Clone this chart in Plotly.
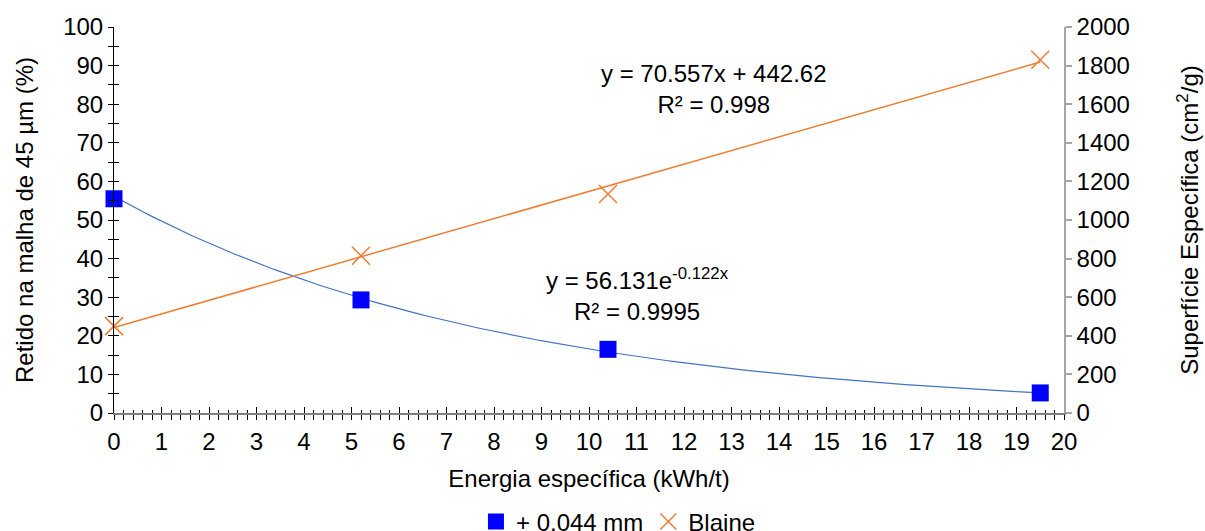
import numpy as np
import plotly.graph_objects as go

# Energia específica (kWh/t) de cada ensaio
energia = [0.0, 5.2, 10.4, 19.5]
# Retido na malha de 45 µm (%)
retido = [55.5, 29.3, 16.5, 5.2]
# Superfície específica Blaine (cm²/g)
blaine = [450, 815, 1135, 1830]

# Coeficientes das linhas de tendência
exp_a, exp_b = 56.131, -0.122
lin_a, lin_b = 70.557, 442.62

FONT = "Liberation Sans, Arial, sans-serif"
FS = 24

xs = np.linspace(0, energia[-1], 200)

fig = go.Figure()

fig.add_trace(go.Scatter(
    x=xs, y=exp_a * np.exp(exp_b * xs), mode="lines",
    line=dict(color="#4472C4", width=1.2), showlegend=False, hoverinfo="skip",
))
fig.add_trace(go.Scatter(
    x=xs, y=lin_a * xs + lin_b, mode="lines", yaxis="y2",
    line=dict(color="#ED7D31", width=1.5), showlegend=False, hoverinfo="skip",
))
fig.add_trace(go.Scatter(
    x=energia, y=retido, mode="markers", name="+ 0.044 mm", cliponaxis=False,
    marker=dict(symbol="square", size=17, color="#0000FF"),
))
fig.add_trace(go.Scatter(
    x=energia, y=blaine, mode="markers", name="Blaine", yaxis="y2", cliponaxis=False,
    marker=dict(symbol="x-thin-open", size=18, color="#ED7D31",
                line=dict(color="#ED7D31", width=1.5)),
))

# Eixos invisíveis só para desenhar a parte interna dos ticks (ticks cruzados)
fig.add_trace(go.Scatter(x=[0], y=[0], xaxis="x3", yaxis="y3",
                         mode="markers", marker=dict(opacity=0),
                         showlegend=False, hoverinfo="skip"))

tickfont = dict(family=FONT, size=FS, color="black")

fig.update_layout(
    width=1205, height=531,
    margin=dict(l=114, r=141, t=27, b=118, autoexpand=False),
    paper_bgcolor="white", plot_bgcolor="white",
    font=dict(family=FONT, size=FS, color="black"),
    xaxis=dict(
        range=[0, 20], dtick=1, tick0=0, showgrid=False, zeroline=False,
        showline=True, linecolor="#7F7F7F", linewidth=1.5,
        ticks="outside", ticklen=5, tickwidth=1, tickcolor="black",
        minor=dict(dtick=0.2, ticks="outside", ticklen=5, tickwidth=1,
                   tickcolor="black", showgrid=False),
        tickfont=tickfont, ticklabelstandoff=1,
        title=dict(text="Energia específica (kWh/t)", font=tickfont, standoff=17),
    ),
    yaxis=dict(
        range=[0, 100], dtick=10, showgrid=False, zeroline=False,
        showline=True, linecolor="black", linewidth=1,
        ticks="outside", ticklen=5, tickwidth=1, tickcolor="black",
        minor=dict(dtick=5, ticks="outside", ticklen=5, tickwidth=1,
                   tickcolor="black", showgrid=False),
        tickfont=tickfont,
        title=dict(text="Retido na malha de 45 µm (%)", font=tickfont, standoff=22),
    ),
    yaxis2=dict(
        range=[0, 2000], dtick=200, overlaying="y", side="right",
        showgrid=False, zeroline=False,
        showline=True, linecolor="#A6A6A6", linewidth=1.5,
        ticks="outside", ticklen=6, tickwidth=1.5, tickcolor="#A6A6A6",
        tickfont=tickfont,
        title=dict(text="Superfície Específica (cm<sup>2</sup>/g)", font=tickfont,
                   standoff=52),
    ),
    xaxis3=dict(
        range=[0, 20], dtick=1, overlaying="x", anchor="y3",
        showgrid=False, zeroline=False, showline=False, showticklabels=False,
        ticks="inside", ticklen=6, tickwidth=1, tickcolor="black",
        minor=dict(dtick=0.2, ticks="inside", ticklen=3, tickwidth=1,
                   tickcolor="black", showgrid=False),
    ),
    yaxis3=dict(
        range=[0, 100], dtick=10, overlaying="y", anchor="x3",
        showgrid=False, zeroline=False, showline=False, showticklabels=False,
        ticks="inside", ticklen=5, tickwidth=1, tickcolor="black",
        minor=dict(dtick=5, ticks="inside", ticklen=5, tickwidth=1,
                   tickcolor="black", showgrid=False),
    ),
    legend=dict(
        orientation="h", x=0.531, xanchor="center",
        yref="container", y=0.017, yanchor="middle",
        font=tickfont, bgcolor="rgba(0,0,0,0)", itemwidth=30,
    ),
    annotations=[
        dict(x=12.63, y=84, xref="x", yref="y", showarrow=False, align="center",
             text=f"y = {lin_a}x + {lin_b}<br>R² = 0.998", font=tickfont,
             yanchor="middle"),
        dict(x=11.03, y=30.6, xref="x", yref="y", showarrow=False, align="center",
             text=f"y = {exp_a}e<sup>{exp_b}x</sup><br>R² = 0.9995", font=tickfont,
             yanchor="middle"),
    ],
)

fig.write_html("out.html")
